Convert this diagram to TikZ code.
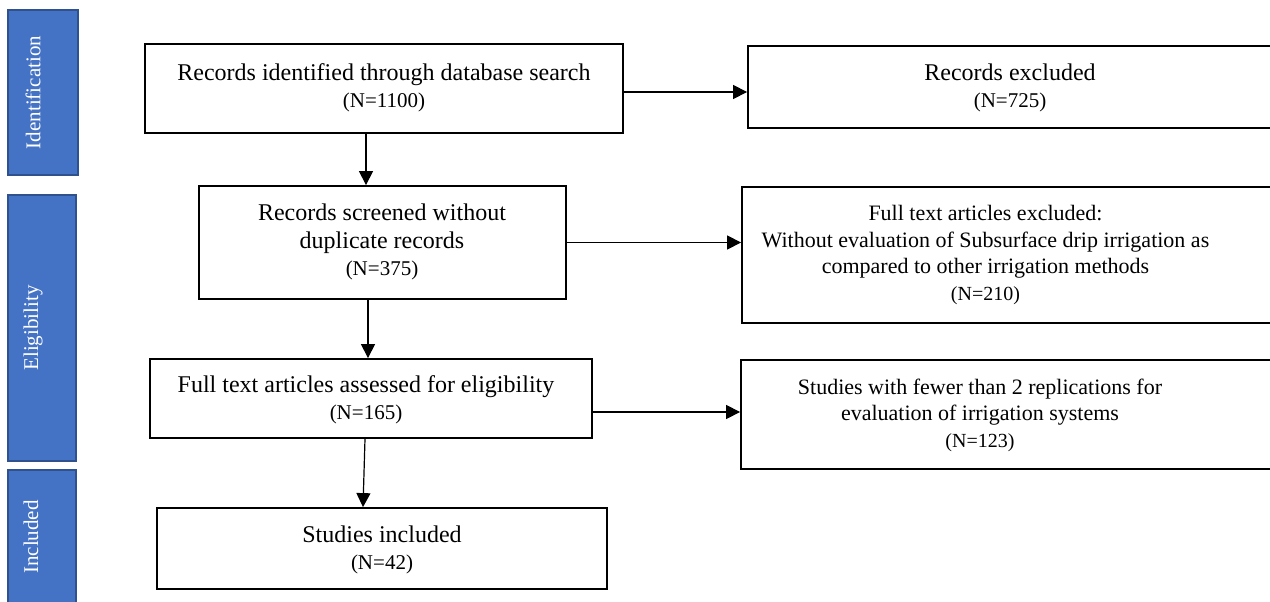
\documentclass[tikz,border=0pt]{standalone}
\usepackage{fontspec}
\setmainfont{Liberation Serif}
\usetikzlibrary{arrows.meta}
\definecolor{barfill}{HTML}{4472C4}
\definecolor{barline}{HTML}{2F528F}
\tikzset{
  box/.style={draw=black, line width=1.8pt, inner sep=0pt},
  bar/.style={draw=barline, fill=barfill, line width=1.6pt, inner sep=0pt},
  bartext/.style={text=white, rotate=90, font=\fontsize{21}{24}\selectfont, inner sep=0pt},
  txt/.style={align=center, inner sep=0pt, font=\fontsize{24}{27.5}\selectfont},
  txts/.style={align=center, inner sep=0pt, font=\fontsize{22}{26.5}\selectfont},
  arr/.style={-{Triangle[length=14pt,width=14pt]}, line width=1.2pt},
}
\newcommand{\nbig}[1]{{\fontsize{21}{27.5}\selectfont #1}}
\newcommand{\nsml}[1]{{\fontsize{20}{26.5}\selectfont #1}}
\begin{document}
\begin{tikzpicture}[x=1pt,y=-1pt]
\useasboundingbox (0,0) rectangle (1270,602);
% side bars
\node[bar, minimum width=70pt, minimum height=165pt] (s1) at (43,92.5) {};
\node[bar, minimum width=68pt, minimum height=266pt] (s2) at (42,328) {};
\node[bar, minimum width=68pt, minimum height=134pt] (s3) at (42,537) {};
\node[bartext] (s1t) at (33,92.5) {Identification};
\node[bartext] (s2t) at (33,328) {Eligibility};
\node[bartext] (s3t) at (31,537) {Included};
% left boxes
\node[box, minimum width=478pt, minimum height=89pt] (b1) at (384,88.5) {};
\node[box, minimum width=367pt, minimum height=113pt] (b2) at (382.5,242.5) {};
\node[box, minimum width=442pt, minimum height=79pt] (b3) at (371,398.5) {};
\node[box, minimum width=450pt, minimum height=81pt] (b4) at (382,548.5) {};
% right boxes
\node[box, minimum width=524pt, minimum height=82pt] (r1) at (1010,87) {};
\node[box, minimum width=538pt, minimum height=136pt] (r2) at (1011,255) {};
\node[box, minimum width=539pt, minimum height=109pt] (r3) at (1010.5,414.5) {};
% texts
\node[txt] (t1) at (384,88) {Records identified through database search\\\nbig{(N=1100)}};
\node[txt] (t2) at (382,242) {Records screened without\\duplicate records\\\nbig{(N=375)}};
\node[txt] (t3) at (366,400) {Full text articles assessed for eligibility\\\nbig{(N=165)}};
\node[txt] (t4) at (382,550) {Studies included\\\nbig{(N=42)}};
\node[txt] (u1) at (1010,88) {Records excluded\\\nbig{(N=725)}};
\node[txts] (u2) at (985.5,255) {Full text articles excluded:\\Without evaluation of Subsurface drip irrigation as\\compared to other irrigation methods\\\nsml{(N=210)}};
\node[txts] (u3) at (980,415) {Studies with fewer than 2 replications for\\evaluation of irrigation systems\\\nsml{(N=123)}};
% connectors
\draw[arr] ([yshift=-3.5pt]b1.east) -- ([yshift=-5pt]r1.west);
\draw[arr] (b2.east) -- ([yshift=12.5pt]r2.west);
\draw[arr] ([yshift=-13.5pt]b3.east) -- ([yshift=2.5pt]r3.west);
\draw[arr] ([xshift=-18pt]b1.south) -- ([xshift=-16.5pt]b2.north);
\draw[arr] ([xshift=-14.5pt]b2.south) -- ([xshift=-3pt]b3.north);
\draw[arr] ([xshift=-6pt]b3.south) -- ([xshift=-19pt]b4.north);
\end{tikzpicture}
\end{document}
